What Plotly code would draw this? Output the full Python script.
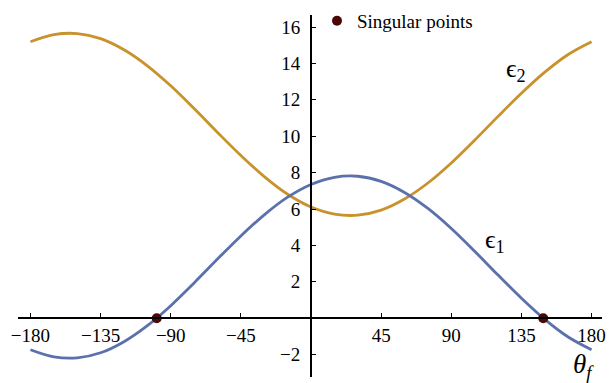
import plotly.graph_objects as go

# Angle theta_f in degrees
theta = [-180, -165, -150, -135, -120, -105, -90, -75, -60, -45, -30, -15,
         0, 15, 30, 45, 60, 75, 90, 105, 120, 135, 150, 165, 180]

# Lower branch (epsilon_1)
eps1 = [-1.73, -2.12, -2.18, -1.90, -1.29, -0.41, 0.69, 1.94, 3.25, 4.52, 5.68, 6.65,
        7.35, 7.74, 7.80, 7.52, 6.91, 6.03, 4.93, 3.68, 2.37, 1.10, -0.06, -1.03, -1.73]

# Upper branch (epsilon_2)
eps2 = [15.19, 15.58, 15.64, 15.36, 14.75, 13.87, 12.77, 11.52, 10.21, 8.94, 7.78, 6.81,
        6.11, 5.72, 5.66, 5.94, 6.55, 7.43, 8.53, 9.78, 11.09, 12.36, 13.52, 14.49, 15.19]

# Points where epsilon_1 vanishes
sing_theta = [-99, 149]
sing_eps = [0, 0]

x_ticks = [-180, -135, -90, -45, 45, 90, 135, 180]
y_ticks = [-2, 2, 4, 6, 8, 10, 12, 14, 16]

def lbl(v):
    return ("\u2212" + str(-v)) if v < 0 else str(v)

BLUE = "#5b71ab"
GOLD = "#c8922c"
DOT = "#4a0808"
FONT = "Liberation Serif"

xr = [-188, 186.7]
yr = [-3.23, 16.66]

fig = go.Figure()
fig.add_trace(go.Scatter(x=theta, y=eps2, mode="lines", showlegend=False,
                         line=dict(color=GOLD, width=2.8, shape="spline", smoothing=1)))
fig.add_trace(go.Scatter(x=theta, y=eps1, mode="lines", showlegend=False,
                         line=dict(color=BLUE, width=2.8, shape="spline", smoothing=1)))
fig.add_trace(go.Scatter(x=sing_theta, y=sing_eps, mode="markers", name="Singular points",
                         marker=dict(color=DOT, size=10)))

fig.add_annotation(x=131.5, y=13.64, text="\u03f5<sub>2</sub>", showarrow=False,
                   font=dict(family=FONT, size=26, color="black"))
fig.add_annotation(x=118, y=4.25, text="\u03f5<sub>1</sub>", showarrow=False,
                   font=dict(family=FONT, size=26, color="black"))
fig.add_annotation(x=175, y=-2.62, text="<i>\u03b8<sub>f</sub></i>", showarrow=False,
                   font=dict(family=FONT, size=27, color="black"))

fig.update_layout(
    width=610, height=383, autosize=False,
    margin=dict(l=18, r=8, t=15, b=6, autoexpand=False),
    paper_bgcolor="white", plot_bgcolor="white",
    font=dict(family=FONT, size=19, color="black"),
    xaxis=dict(range=xr, anchor="free", position=(0 - yr[0]) / (yr[1] - yr[0]),
               showgrid=False, zeroline=False, showline=True, linecolor="black",
               linewidth=2, ticks="inside", ticklen=4, tickwidth=1, tickcolor="black",
               tickvals=x_ticks, ticktext=[lbl(v) for v in x_ticks],
               tickfont=dict(family=FONT, size=19)),
    yaxis=dict(range=yr, anchor="free", position=(0 - xr[0]) / (xr[1] - xr[0]),
               showgrid=False, zeroline=False, showline=True, linecolor="black",
               linewidth=2, ticks="inside", ticklen=4, tickwidth=1, tickcolor="black",
               tickvals=y_ticks, ticktext=[lbl(v) for v in y_ticks],
               tickfont=dict(family=FONT, size=19), ticklabelstandoff=6),
    legend=dict(x=(317 - 18) / 584, y=1.036, xanchor="left", yanchor="top",
                bgcolor="rgba(0,0,0,0)", font=dict(family=FONT, size=19)),
    showlegend=True,
)

fig.write_html("out.html")
